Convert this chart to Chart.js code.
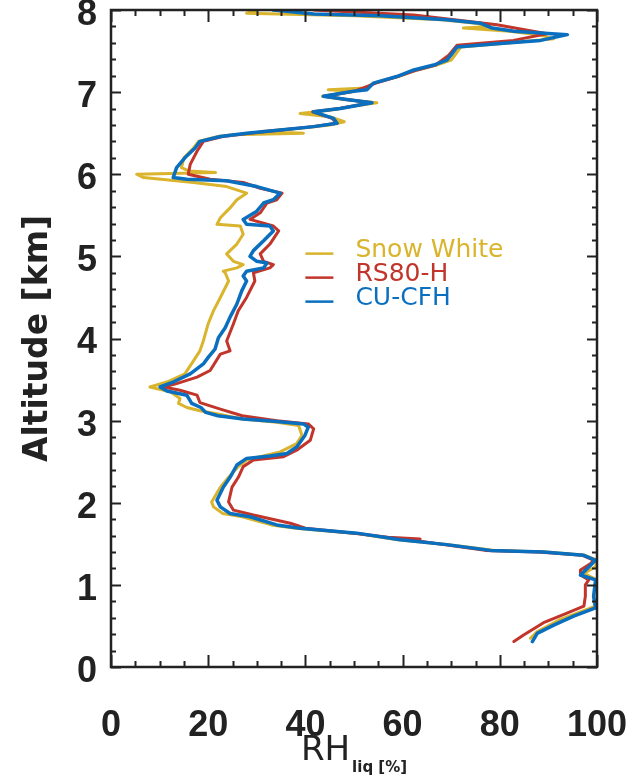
<!DOCTYPE html>
<html>
<head>
<meta charset="utf-8">
<script src="https://cdn.jsdelivr.net/npm/chart.js@4.4.1/dist/chart.umd.min.js"></script>
<style>
    html, body { margin: 0; padding: 0; background: #ffffff; }
</style>
</head>
<body>
<canvas id="rhProfileChart" width="629" height="778"></canvas>
<script>
// Altitude [km] / RH over liquid [%] per sonde
const altSnow = [0.35, 0.43, 0.58, 0.74, 0.80, 0.96, 1.06, 1.14, 1.22, 1.30, 1.36, 1.40, 1.42, 1.49, 1.55, 1.63, 1.69, 1.73, 1.83, 1.87, 1.95, 2.01, 2.19, 2.31, 2.44, 2.52, 2.62, 2.72, 2.82, 2.94, 2.98, 3.02, 3.08, 3.12, 3.16, 3.21, 3.27, 3.35, 3.41, 3.47, 3.57, 3.73, 3.85, 3.97, 4.18, 4.34, 4.50, 4.70, 4.80, 4.82, 4.86, 4.90, 4.94, 5.03, 5.15, 5.27, 5.37, 5.39, 5.47, 5.59, 5.69, 5.77, 5.85, 5.90, 5.96, 6.00, 6.02, 6.04, 6.08, 6.20, 6.32, 6.40, 6.46, 6.48, 6.50, 6.52, 6.56, 6.60, 6.64, 6.70, 6.74, 6.78, 6.83, 6.87, 6.91, 6.95, 7.01, 7.03, 7.05, 7.11, 7.19, 7.27, 7.33, 7.39, 7.47, 7.55, 7.59, 7.65, 7.70, 7.74, 7.78, 7.80, 7.84, 7.88, 7.93, 7.96, 8.00];
const rhSnow = [86.3, 87.7, 92.5, 99.7, 100, 100, 100, 97.3, 99.7, 100, 97.5, 89.5, 79.0, 69.5, 59.0, 50.0, 38.0, 33.0, 27.0, 23.0, 21.1, 20.7, 22.5, 24.2, 26.2, 27.9, 34.8, 38.2, 39.3, 38.6, 34.1, 27.0, 22.0, 18.3, 15.6, 13.9, 14.2, 12.2, 8.0, 11.5, 15.2, 17.0, 18.3, 19.0, 20.0, 21.1, 22.5, 24.2, 23.5, 23.1, 25.9, 27.2, 25.2, 23.8, 25.9, 27.2, 26.6, 21.8, 22.5, 24.5, 25.9, 27.9, 23.8, 17.0, 6.7, 5.3, 21.5, 16.0, 14.5, 15.0, 17.0, 18.0, 22.0, 25.0, 39.6, 31.0, 39.0, 45.0, 48.0, 45.0, 38.9, 45.0, 50.0, 54.7, 48.0, 43.5, 50.0, 44.7, 52.5, 54.0, 59.0, 63.0, 67.0, 70.0, 71.0, 72.0, 80.0, 91.1, 88.0, 82.0, 72.5, 78.0, 75.0, 68.0, 50.0, 27.9, 30.0];

const altRS80 = [0.31, 0.39, 0.54, 0.64, 0.74, 0.86, 1.00, 1.06, 1.12, 1.18, 1.26, 1.30, 1.36, 1.40, 1.42, 1.49, 1.55, 1.56, 1.58, 1.63, 1.69, 1.75, 1.85, 1.91, 2.01, 2.19, 2.31, 2.44, 2.52, 2.56, 2.64, 2.76, 2.90, 2.96, 3.00, 3.06, 3.14, 3.22, 3.31, 3.37, 3.41, 3.45, 3.53, 3.61, 3.81, 3.85, 3.97, 4.18, 4.34, 4.50, 4.70, 4.80, 4.86, 4.90, 4.94, 5.03, 5.15, 5.31, 5.37, 5.45, 5.53, 5.65, 5.69, 5.77, 5.83, 5.90, 5.94, 6.00, 6.12, 6.28, 6.40, 6.46, 6.50, 6.54, 6.58, 6.62, 6.68, 6.76, 6.80, 6.87, 6.91, 6.95, 7.01, 7.11, 7.19, 7.27, 7.33, 7.45, 7.57, 7.63, 7.71, 7.82, 7.94, 8.00];
const rhRS80 = [82.9, 84.9, 89.0, 93.2, 97.3, 97.6, 97.6, 98.3, 96.6, 96.6, 98.7, 99.3, 97.0, 88.0, 77.0, 68.5, 61.5, 63.6, 57.0, 50.0, 40.0, 36.9, 29.3, 25.2, 24.2, 24.9, 26.2, 27.2, 29.3, 35.5, 38.2, 41.0, 41.7, 40.6, 34.1, 27.0, 22.5, 18.3, 17.7, 14.2, 10.8, 13.5, 17.7, 20.4, 22.5, 24.5, 23.8, 25.2, 26.2, 27.9, 29.6, 29.3, 32.7, 33.4, 31.4, 30.7, 32.7, 34.5, 33.4, 28.6, 30.7, 32.1, 34.1, 35.2, 30.7, 27.2, 20.4, 15.9, 16.3, 17.7, 19.0, 23.0, 28.5, 35.0, 41.5, 46.5, 45.5, 41.5, 47.0, 53.5, 48.5, 44.0, 50.0, 54.5, 59.0, 63.0, 66.8, 69.5, 71.2, 82.8, 89.7, 79.4, 62.3, 41.7];

const altCFH = [0.31, 0.41, 0.51, 0.62, 0.72, 0.86, 0.96, 1.06, 1.12, 1.20, 1.30, 1.36, 1.40, 1.42, 1.49, 1.55, 1.63, 1.69, 1.73, 1.83, 1.87, 1.95, 2.03, 2.19, 2.31, 2.46, 2.54, 2.57, 2.60, 2.68, 2.82, 2.92, 2.96, 2.99, 3.02, 3.06, 3.10, 3.16, 3.21, 3.31, 3.36, 3.41, 3.47, 3.57, 3.69, 3.77, 3.87, 4.01, 4.13, 4.26, 4.42, 4.58, 4.70, 4.76, 4.82, 4.86, 4.92, 4.94, 5.00, 5.07, 5.19, 5.31, 5.37, 5.39, 5.45, 5.55, 5.65, 5.69, 5.77, 5.85, 5.92, 5.94, 5.96, 6.08, 6.20, 6.32, 6.40, 6.46, 6.50, 6.54, 6.58, 6.62, 6.68, 6.76, 6.80, 6.87, 6.91, 6.95, 7.01, 7.03, 7.11, 7.19, 7.27, 7.33, 7.39, 7.47, 7.55, 7.59, 7.63, 7.70, 7.74, 7.78, 7.84, 7.88, 7.93, 7.95, 8.00];
const rhCFH = [86.7, 87.7, 91.1, 95.2, 99.7, 99.3, 99.5, 99.7, 96.6, 98.0, 99.7, 97.3, 89.0, 78.1, 69.1, 59.5, 50.6, 38.9, 34.1, 28.6, 24.5, 22.5, 21.8, 23.1, 24.5, 25.9, 27.9, 32.7, 36.2, 38.2, 39.9, 40.6, 39.6, 34.1, 27.2, 22.0, 19.5, 18.5, 16.6, 15.6, 11.5, 10.1, 12.8, 16.3, 19.0, 20.0, 21.4, 22.1, 23.5, 24.5, 25.9, 26.9, 27.9, 27.2, 27.9, 31.4, 32.1, 30.0, 28.6, 29.3, 31.4, 33.4, 32.7, 27.9, 27.2, 30.0, 31.4, 33.4, 34.8, 30.0, 23.8, 15.6, 12.8, 13.5, 15.2, 17.3, 18.3, 22.5, 27.9, 34.8, 41.7, 46.5, 45.8, 41.7, 47.2, 53.7, 48.5, 43.7, 49.9, 52.7, 54.0, 58.8, 62.3, 66.4, 69.1, 70.2, 71.2, 79.4, 88.4, 93.9, 82.9, 78.4, 76.0, 69.1, 55.4, 41.7, 33.4];

const seriesNames = ["Snow White", "RS80-H", "CU-CFH"];
const seriesColors = ["#d9b42c", "#c1352b", "#0a6fbe"];
const rhTickStep = 20, rhMinorStep = 5;
const altTickStep = 1, altMinorStep = 0.2;

function toPoints(alt, rh) {
    return alt.map((a, i) => ({ x: rh[i], y: a }));
}

const axisColor = "#222222";
const fontFamily = "'DejaVu Sans', sans-serif";
const tickFont = "'Liberation Sans', Arial, sans-serif";

// frame, inward ticks on all four sides, axis titles and legend
const framePlugin = {
    id: "frame",
    afterDatasetsDraw(chart) {
        const { ctx, chartArea: a, scales } = chart;
        const xs = scales.x, ys = scales.y;
        ctx.save();
        ctx.strokeStyle = axisColor;
        ctx.lineWidth = 2.5;
        ctx.strokeRect(a.left, a.top, a.right - a.left, a.bottom - a.top);

        ctx.lineWidth = 2;
        ctx.beginPath();
        for (let v = xs.min; v <= xs.max + 1e-6; v += rhMinorStep) {
            const px = Math.round(xs.getPixelForValue(v)) + 0.5;
            const major = Math.abs(v % rhTickStep) < 1e-6;
            const len = major ? 12 : 6;
            ctx.moveTo(px, a.bottom); ctx.lineTo(px, a.bottom - len);
            ctx.moveTo(px, a.top); ctx.lineTo(px, a.top + len);
        }
        for (let k = 0; k <= Math.round((ys.max - ys.min) / altMinorStep); k++) {
            const v = ys.min + k * altMinorStep;
            const py = Math.round(ys.getPixelForValue(v)) + 0.5;
            const major = k % Math.round(altTickStep / altMinorStep) === 0;
            const len = major ? 10 : 5;
            ctx.moveTo(a.left, py); ctx.lineTo(a.left + len, py);
            ctx.moveTo(a.right, py); ctx.lineTo(a.right - len, py);
        }
        ctx.stroke();

        // legend inside the plot
        const lx = xs.getPixelForValue(40);
        const ly = ys.getPixelForValue(5.07);
        ctx.font = "25px " + fontFamily;
        ctx.textBaseline = "middle";
        ctx.textAlign = "left";
        seriesNames.forEach((name, i) => {
            const y = ly + i * 24;
            ctx.strokeStyle = seriesColors[i];
            ctx.lineWidth = 2.5;
            ctx.beginPath();
            ctx.moveTo(lx, y + 3);
            ctx.lineTo(lx + 28, y + 3);
            ctx.stroke();
            ctx.fillStyle = seriesColors[i];
            ctx.fillText(name, lx + 50, y);
        });

        // y title
        ctx.fillStyle = axisColor;
        ctx.save();
        ctx.translate(38, (a.top + a.bottom) / 2);
        ctx.rotate(-Math.PI / 2);
        ctx.textAlign = "center";
        ctx.textBaseline = "middle";
        ctx.font = "bold 33px " + fontFamily;
        ctx.fillText("Altitude [km]", 0, 0);
        ctx.restore();

        // x title with subscript
        ctx.textAlign = "left";
        ctx.textBaseline = "alphabetic";
        ctx.font = "34px " + fontFamily;
        const mainW = ctx.measureText("RH").width;
        ctx.font = "bold 15px " + fontFamily;
        const subW = ctx.measureText("liq [%]").width;
        const tx = (a.left + a.right) / 2 - (mainW + subW + 2) / 2;
        ctx.font = "34px " + fontFamily;
        ctx.fillText("RH", tx, 760);
        ctx.font = "bold 15px " + fontFamily;
        ctx.fillText("liq [%]", tx + mainW + 2, 772);
        ctx.restore();
    },
};

const ctx = document.getElementById("rhProfileChart").getContext("2d");
const rhProfileChart = new Chart(ctx, {
    type: "line",
    data: {
        datasets: [
            {
                label: seriesNames[2],
                data: toPoints(altCFH, rhCFH),
                borderColor: seriesColors[2],
                borderWidth: 3.5,
                order: 0,
            },
            {
                label: seriesNames[1],
                data: toPoints(altRS80, rhRS80),
                borderColor: seriesColors[1],
                borderWidth: 3,
                order: 1,
            },
            {
                label: seriesNames[0],
                data: toPoints(altSnow, rhSnow),
                borderColor: seriesColors[0],
                borderWidth: 3,
                order: 2,
            },
        ],
    },
    options: {
        responsive: false,
        animation: false,
        devicePixelRatio: 1,
        layout: {
            padding: { top: 10, right: 32, left: 0, bottom: 0 },
        },
        elements: {
            point: { radius: 0 },
            line: { tension: 0, borderJoinStyle: "round", borderCapStyle: "round" },
        },
        plugins: {
            legend: { display: false },
            tooltip: { enabled: false },
        },
        scales: {
            x: {
                type: "linear",
                min: 0,
                max: 100,
                grid: { display: false, drawTicks: false },
                border: { display: false },
                ticks: {
                    stepSize: rhTickStep,
                    padding: 37,
                    color: axisColor,
                    maxRotation: 0,
                    font: { family: tickFont, size: 36, weight: "bold" },
                },
                afterFit(scale) {
                    scale.height = 111;
                    scale.paddingLeft = 0;
                    scale.paddingRight = 0;
                },
            },
            y: {
                type: "linear",
                min: 0,
                max: 8,
                grid: { display: false, drawTicks: false },
                border: { display: false },
                ticks: {
                    stepSize: altTickStep,
                    padding: 14,
                    labelOffset: 5,
                    color: axisColor,
                    font: { family: tickFont, size: 36, weight: "bold" },
                },
                afterFit(scale) {
                    scale.width = 111;
                    scale.paddingTop = 0;
                    scale.paddingBottom = 0;
                },
            },
        },
    },
    plugins: [framePlugin],
});
</script>
</body>
</html>
